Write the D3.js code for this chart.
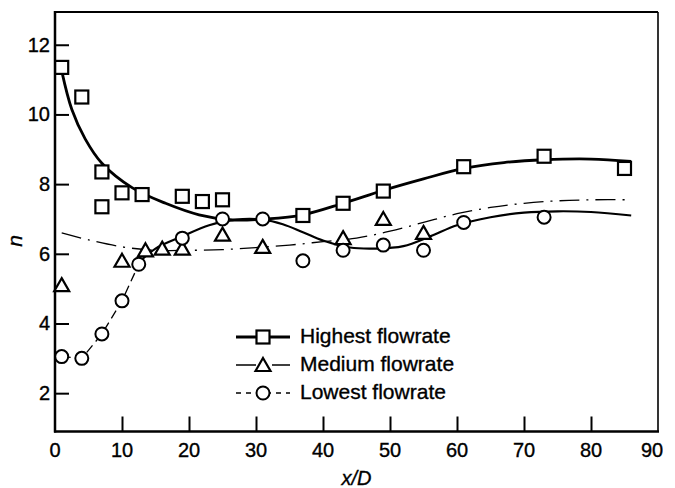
<!DOCTYPE html>
<html>
<head>
<meta charset="utf-8">
<script src="https://cdn.jsdelivr.net/npm/d3@7"></script>
<style>
  html, body { margin: 0; padding: 0; background: #fff; }
  svg { display: block; }
  text { font-family: "Liberation Sans", Arial, sans-serif; fill: #000; stroke: #000; stroke-width: 0.35px; }
</style>
</head>
<body>
<div id="container"></div>
<script>
// Tick values
const xTickVals = [10, 20, 30, 40, 50, 60, 70, 80];
const xLabelVals = [0, 10, 20, 30, 40, 50, 60, 70, 80, 90];
const yTickVals = [2, 4, 6, 8, 10, 12];

// Highest flowrate (squares)
const highX = [1, 4, 7, 7, 10, 13, 19, 22, 25, 37, 43, 49, 61, 73, 85];
const highY = [11.35, 10.5, 8.35, 7.35, 7.75, 7.7, 7.65, 7.5, 7.55, 7.1, 7.45, 7.8, 8.5, 8.8, 8.45];

// Medium flowrate (triangles)
const medX = [1, 10, 13.5, 16, 19, 25, 31, 43, 49, 55];
const medY = [5.1, 5.8, 6.1, 6.15, 6.15, 6.55, 6.2, 6.45, 7.0, 6.6];

// Lowest flowrate (circles)
const lowX = [1, 4, 7, 10, 12.5, 19, 25, 31, 37, 43, 49, 55, 61, 73];
const lowY = [3.05, 3.0, 3.7, 4.65, 5.7, 6.45, 7.0, 7.0, 5.8, 6.1, 6.25, 6.1, 6.9, 7.05];

// Fitted curves
const highFitX = [1, 2.5, 4.5, 7, 11.5, 16.5, 21.5, 26.5, 31.5, 37, 43, 49, 55, 61, 67, 73, 80, 86];
const highFitY = [11.25, 10.15, 9.3, 8.6, 7.9, 7.45, 7.12, 6.97, 7.0, 7.12, 7.45, 7.82, 8.15, 8.45, 8.62, 8.7, 8.72, 8.65];

const medFitX = [1, 5, 10, 15, 20, 25, 30, 35, 40, 45, 50, 55, 60, 65, 70, 75, 80, 86];
const medFitY = [6.6, 6.4, 6.2, 6.1, 6.1, 6.12, 6.18, 6.25, 6.35, 6.45, 6.65, 6.9, 7.15, 7.33, 7.45, 7.52, 7.55, 7.55];

const lowDashX = [1, 4, 7, 10, 12.5];
const lowDashY = [3.05, 3.0, 3.7, 4.65, 5.7];

const lowFitX = [12.5, 15, 19, 23, 27, 31, 34, 37, 40, 44, 48, 52, 56, 60, 65, 70, 75, 80, 86];
const lowFitY = [5.75, 6.15, 6.5, 6.82, 6.98, 6.98, 6.85, 6.62, 6.38, 6.18, 6.15, 6.22, 6.5, 6.82, 7.05, 7.18, 7.22, 7.2, 7.1];

const legendNames = ['Highest flowrate', 'Medium flowrate', 'Lowest flowrate'];

const W = 675, H = 488;
const plotLeft = 55, plotRight = 658, plotTop = 12, plotBottom = 431.5;

const svg = d3.select('#container').append('svg')
  .attr('width', W)
  .attr('height', H);

// The scan is cut just right of the frame, so the last tick label is clipped
svg.append('clipPath').attr('id', 'cut')
  .append('rect').attr('x', 0).attr('y', 0).attr('width', 663).attr('height', H);

const x = d3.scaleLinear().domain([0, 90]).range([plotLeft, plotRight]);
const y = d3.scaleLinear().domain([0.9, 12.94]).range([plotBottom, plotTop]);

const zip = (xs, ys) => xs.map((v, i) => [v, ys[i]]);

// Frame
svg.append('line').attr('x1', plotLeft).attr('x2', plotLeft).attr('y1', plotTop - 1).attr('y2', plotBottom + 1)
  .attr('stroke', '#000').attr('stroke-width', 2.5);
svg.append('line').attr('x1', plotLeft - 1).attr('x2', plotRight + 1).attr('y1', plotBottom).attr('y2', plotBottom)
  .attr('stroke', '#000').attr('stroke-width', 2.5);
svg.append('line').attr('x1', plotLeft).attr('x2', plotRight).attr('y1', plotTop).attr('y2', plotTop)
  .attr('stroke', '#000').attr('stroke-width', 2);
svg.append('line').attr('x1', plotRight).attr('x2', plotRight).attr('y1', plotTop).attr('y2', plotBottom)
  .attr('stroke', '#000').attr('stroke-width', 1.6);

// Inward x ticks and labels
svg.append('g')
  .attr('transform', `translate(0, ${plotBottom})`)
  .call(d3.axisBottom(x).tickValues(xTickVals).tickSize(-15).tickFormat(''))
  .call(g => g.select('.domain').remove())
  .call(g => g.selectAll('line').attr('stroke-width', 2));

svg.append('g')
  .attr('clip-path', 'url(#cut)')
  .selectAll('text')
  .data(xLabelVals)
  .enter().append('text')
  .attr('x', d => d === 90 ? x(d) - 6 : x(d))
  .attr('y', 457)
  .attr('text-anchor', 'middle')
  .attr('font-size', 20)
  .text(d => d);

// Inward y ticks and labels
svg.append('g')
  .attr('transform', `translate(${plotLeft}, 0)`)
  .call(d3.axisLeft(y).tickValues(yTickVals).tickSize(-14).tickFormat(''))
  .call(g => g.select('.domain').remove())
  .call(g => g.selectAll('line').attr('stroke-width', 2));

svg.append('g').selectAll('text')
  .data(yTickVals)
  .enter().append('text')
  .attr('x', 50)
  .attr('y', d => y(d) + 7)
  .attr('text-anchor', 'end')
  .attr('font-size', 20)
  .text(d => d);

// Axis titles
svg.append('text')
  .attr('x', (plotLeft + plotRight) / 2)
  .attr('y', 485)
  .attr('text-anchor', 'middle')
  .attr('font-size', 20)
  .attr('font-style', 'italic')
  .text('x/D');

svg.append('text')
  .attr('transform', 'translate(22, 241) rotate(-90)')
  .attr('text-anchor', 'middle')
  .attr('font-size', 21)
  .attr('font-style', 'italic')
  .text('n');

// Curves
const line = d3.line()
  .x(d => x(d[0]))
  .y(d => y(d[1]))
  .curve(d3.curveCatmullRom.alpha(0.5));

svg.append('path').datum(zip(medFitX, medFitY))
  .attr('d', line).attr('fill', 'none').attr('stroke', '#000')
  .attr('stroke-width', 1.3).attr('stroke-dasharray', '20,7,2,7');

svg.append('path').datum(zip(lowDashX, lowDashY))
  .attr('d', d3.line().x(d => x(d[0])).y(d => y(d[1])))
  .attr('fill', 'none').attr('stroke', '#000')
  .attr('stroke-width', 1.3).attr('stroke-dasharray', '9,5');

svg.append('path').datum(zip(lowFitX, lowFitY))
  .attr('d', line).attr('fill', 'none').attr('stroke', '#000')
  .attr('stroke-width', 2.2);

svg.append('path').datum(zip(highFitX, highFitY))
  .attr('d', line).attr('fill', 'none').attr('stroke', '#000')
  .attr('stroke-width', 2.8);

// Marker helpers
function square(g, cx, cy) {
  g.append('rect').attr('x', cx - 6.5).attr('y', cy - 6.5)
    .attr('width', 13).attr('height', 13)
    .attr('fill', '#fff').attr('stroke', '#000').attr('stroke-width', 2.2);
}
function triangle(g, cx, cy) {
  const s = 7.5;
  g.append('path')
    .attr('d', `M${cx},${cy - 7}L${cx + s},${cy + 6}L${cx - s},${cy + 6}Z`)
    .attr('fill', '#fff').attr('stroke', '#000').attr('stroke-width', 2.2)
    .attr('stroke-linejoin', 'miter');
}
function circle(g, cx, cy) {
  g.append('circle').attr('cx', cx).attr('cy', cy).attr('r', 6.5)
    .attr('fill', '#fff').attr('stroke', '#000').attr('stroke-width', 2);
}

const marks = svg.append('g');
zip(medX, medY).forEach(d => triangle(marks, x(d[0]), y(d[1])));
zip(lowX, lowY).forEach(d => circle(marks, x(d[0]), y(d[1])));
zip(highX, highY).forEach(d => square(marks, x(d[0]), y(d[1])));

// Legend
const legend = svg.append('g');
const rowY = [337, 365, 393];
const lx0 = 236, lx1 = 290, lcx = 263;

legend.append('line').attr('x1', lx0).attr('x2', lx1).attr('y1', rowY[0]).attr('y2', rowY[0])
  .attr('stroke', '#000').attr('stroke-width', 2.8);
square(legend, lcx, rowY[0]);

legend.append('line').attr('x1', lx0).attr('x2', lx1).attr('y1', rowY[1]).attr('y2', rowY[1])
  .attr('stroke', '#000').attr('stroke-width', 1.3).attr('stroke-dasharray', '20,7,2,7');
triangle(legend, lcx, rowY[1]);

legend.append('line').attr('x1', lx0).attr('x2', lx1).attr('y1', rowY[2]).attr('y2', rowY[2])
  .attr('stroke', '#000').attr('stroke-width', 1.3).attr('stroke-dasharray', '5,5');
circle(legend, lcx, rowY[2]);

legend.selectAll('text')
  .data(legendNames)
  .enter().append('text')
  .attr('x', 300)
  .attr('y', (d, i) => rowY[i] + 6)
  .attr('font-size', 21)
  .text(d => d);
</script>
</body>
</html>
